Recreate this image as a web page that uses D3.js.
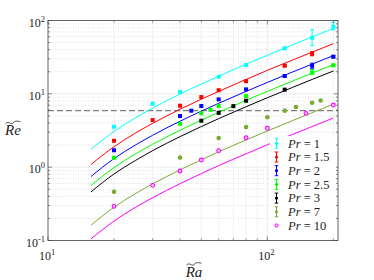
<!DOCTYPE html>
<html><head><meta charset="utf-8">
<script src="https://cdn.jsdelivr.net/npm/d3@7"></script>
<style>
html,body{margin:0;padding:0;background:#fff;}
svg{display:block;}
text{font-family:"Liberation Serif","DejaVu Serif",serif;fill:#222;}
</style></head><body>
<script>
// ---------------- data ----------------
const prLabels = ["1", "1.5", "2", "2.5", "3", "7", "10"];
const seriesColors = ["#00ffff", "#ff0000", "#0000ff", "#00ff00", "#000000", "#77ac30", "#ff00ff"];

const ra1 = [20, 30, 40, 60, 80, 120, 160, 200];
const re1 = [3.56, 7.33, 10.6, 17.1, 24.7, 41.7, 58.2, 82.2];
const lo1 = [3.56, 7.33, 10.6, 17.1, 24.7, 40.5, 45.3, 75.0];
const hi1 = [3.56, 7.33, 10.6, 17.1, 24.7, 43.0, 74.8, 94.0];

const ra15 = [20, 30, 40, 50, 60, 80, 120, 160];
const re15 = [2.29, 4.39, 6.88, 9.04, 11.2, 14.9, 24.2, 35.2];
const lo15 = [2.29, 4.39, 6.88, 9.04, 11.2, 14.9, 23.4, 33.0];
const hi15 = [2.29, 4.39, 6.88, 9.04, 11.2, 14.9, 25.0, 37.5];

const ra2 = [20, 40, 45, 50, 60, 80, 120, 160, 200];
const re2 = [1.70, 4.98, 5.89, 6.82, 8.4, 11.5, 17.5, 24.2, 32.1];
const lo2 = [1.70, 4.98, 5.89, 6.82, 8.4, 11.5, 17.0, 22.3, 31.0];
const hi2 = [1.70, 4.98, 5.89, 6.82, 8.4, 11.5, 18.0, 26.2, 33.2];

const ra25 = [20, 40, 50, 55, 60, 80, 160, 200];
const re25 = [1.34, 3.91, 5.42, 6.05, 6.82, 9.33, 19.6, 24.5];
const lo25 = [1.34, 3.91, 5.42, 6.05, 6.82, 9.0, 18.5, 23.6];
const hi25 = [1.34, 3.91, 5.42, 6.05, 6.82, 9.7, 21.5, 25.4];

const ra3 = [50, 60, 70, 80, 120];
const re3 = [4.3, 5.5, 6.8, 8.05, 11.4];

const ra7 = [20, 40, 60, 80, 100, 120, 135, 160, 175];
const re7 = [0.462, 1.35, 2.5, 3.52, 4.8, 5.9, 6.6, 7.57, 8.1];

const ra10 = [20, 30, 40, 50, 60, 80, 100, 150, 200];
const re10 = [0.292, 0.565, 0.886, 1.25, 1.68, 2.52, 3.39, 5.42, 7.03];

// fitted curves
const fitRa = [15.7, 20, 25, 30, 40, 50, 60, 80, 100, 130, 160, 200];
const fit1  = [1.75, 3.07, 4.69, 6.39, 9.93, 13.6, 17.4, 25.4, 33.6, 46.4, 59.7, 77.9];
const fit15 = [1.085, 1.90, 2.91, 3.96, 6.16, 8.45, 10.8, 15.7, 20.9, 28.8, 37.0, 48.3];
const fit2  = [0.745, 1.31, 2.00, 2.72, 4.23, 5.80, 7.43, 10.8, 14.3, 19.8, 25.4, 33.2];
const fit25 = [0.562, 0.986, 1.51, 2.05, 3.19, 4.38, 5.60, 8.15, 10.8, 14.9, 19.2, 25.0];
const fit3  = [0.46, 0.807, 1.23, 1.68, 2.61, 3.58, 4.59, 6.67, 8.84, 12.2, 15.7, 20.5];
const fit7  = [0.162, 0.284, 0.434, 0.591, 0.919, 1.26, 1.62, 2.35, 3.11, 4.30, 5.53, 7.21];
const fit10 = [0.105, 0.184, 0.282, 0.383, 0.596, 0.818, 1.05, 1.52, 2.02, 2.79, 3.58, 4.68];

const threshold = 5.9;

const xDomain = [10, 210];
const yDomain = [0.1, 100];
const xMajor = [10, 100];
const yMajor = [0.1, 1, 10, 100];
const xTickLabels = [["10", "1"], ["10", "2"]];
const yTickLabels = [["10", "-1"], ["10", "0"], ["10", "1"], ["10", "2"]];

// ---------------- drawing ----------------
const W = 374, H = 280;
const L = 48, R = 338, T = 20.5, B = 240.5;
const svg = d3.select("body").append("svg").attr("width", W).attr("height", H);
const x = d3.scaleLog().domain(xDomain).range([L, R]);
const y = d3.scaleLog().domain(yDomain).range([B, T]);

const minorX = [];
[10, 100].forEach(d => { for (let k = 2; k <= 9; k++) { const v = k * d; if (v <= xDomain[1]) minorX.push(v); } });
const minorY = [];
[0.1, 1, 10].forEach(d => { for (let k = 2; k <= 9; k++) minorY.push(k * d); });

const grid = svg.append("g");
grid.selectAll(".gx").data(minorX).enter().append("line")
  .attr("x1", d => x(d)).attr("x2", d => x(d)).attr("y1", T).attr("y2", B)
  .attr("stroke", "#cfcfcf").attr("stroke-width", 0.6).attr("stroke-dasharray", "1,1.5");
grid.selectAll(".gy").data(minorY).enter().append("line")
  .attr("y1", d => y(d)).attr("y2", d => y(d)).attr("x1", L).attr("x2", R)
  .attr("stroke", "#cfcfcf").attr("stroke-width", 0.6).attr("stroke-dasharray", "1,1.5");
grid.selectAll(".gmx").data(xMajor.slice(1)).enter().append("line")
  .attr("x1", d => x(d)).attr("x2", d => x(d)).attr("y1", T).attr("y2", B)
  .attr("stroke", "#e4e4e4").attr("stroke-width", 0.7);
grid.selectAll(".gmy").data(yMajor.slice(1, 3)).enter().append("line")
  .attr("y1", d => y(d)).attr("y2", d => y(d)).attr("x1", L).attr("x2", R)
  .attr("stroke", "#e4e4e4").attr("stroke-width", 0.7);

// threshold line
svg.append("line").attr("x1", L).attr("x2", R).attr("y1", y(threshold)).attr("y2", y(threshold))
  .attr("stroke", "#808080").attr("stroke-width", 1.4).attr("stroke-dasharray", "6,3");

// fits
const fits = [fit1, fit15, fit2, fit25, fit3, fit7, fit10];
const line = d3.line().x(d => x(d[0])).y(d => y(d[1])).curve(d3.curveMonotoneX);
fits.forEach((f, i) => {
  svg.append("path").attr("d", line(fitRa.map((r, j) => [r, f[j]])))
    .attr("fill", "none").attr("stroke", seriesColors[i]).attr("stroke-width", 1);
});

// points with error bars
const ebSeries = [
  [ra1, re1, lo1, hi1], [ra15, re15, lo15, hi15], [ra2, re2, lo2, hi2], [ra25, re25, lo25, hi25],
  [ra3, re3, re3, re3]
];
ebSeries.forEach((s, i) => {
  const g = svg.append("g");
  const c = seriesColors[i];
  s[0].forEach((r, j) => {
    const lo = s[2][j], hi = s[3][j];
    if (hi / lo > 1.02) {
      g.append("line").attr("x1", x(r)).attr("x2", x(r)).attr("y1", y(lo)).attr("y2", y(hi))
        .attr("stroke", c).attr("stroke-width", 1);
      [lo, hi].forEach(v => g.append("line").attr("x1", x(r) - 2).attr("x2", x(r) + 2)
        .attr("y1", y(v)).attr("y2", y(v)).attr("stroke", c).attr("stroke-width", 1));
    }
    g.append("rect").attr("x", x(r) - 2).attr("y", y(s[1][j]) - 2).attr("width", 4).attr("height", 4)
      .attr("fill", c);
  });
});
svg.append("g").selectAll("circle").data(ra7.map((r, j) => [r, re7[j]])).enter().append("circle")
  .attr("cx", d => x(d[0])).attr("cy", d => y(d[1])).attr("r", 2.3).attr("fill", seriesColors[5]);
svg.append("g").selectAll("circle").data(ra10.map((r, j) => [r, re10[j]])).enter().append("circle")
  .attr("cx", d => x(d[0])).attr("cy", d => y(d[1])).attr("r", 1.9).attr("fill", "#ffc8ff")
  .attr("stroke", seriesColors[6]).attr("stroke-width", 1.1);

// axes box and ticks
const axc = "#404040";
svg.append("rect").attr("x", L).attr("y", T).attr("width", R - L).attr("height", B - T)
  .attr("fill", "none").attr("stroke", axc).attr("stroke-width", 0.8);
const tk = svg.append("g").attr("stroke", axc).attr("stroke-width", 0.6);
xMajor.forEach(v => { tk.append("line").attr("x1", x(v)).attr("x2", x(v)).attr("y1", B).attr("y2", B - 4);
  tk.append("line").attr("x1", x(v)).attr("x2", x(v)).attr("y1", T).attr("y2", T + 4); });
minorX.forEach(v => { tk.append("line").attr("x1", x(v)).attr("x2", x(v)).attr("y1", B).attr("y2", B - 2);
  tk.append("line").attr("x1", x(v)).attr("x2", x(v)).attr("y1", T).attr("y2", T + 2); });
yMajor.forEach(v => { tk.append("line").attr("y1", y(v)).attr("y2", y(v)).attr("x1", L).attr("x2", L + 4);
  tk.append("line").attr("y1", y(v)).attr("y2", y(v)).attr("x1", R).attr("x2", R - 4); });
minorY.forEach(v => { tk.append("line").attr("y1", y(v)).attr("y2", y(v)).attr("x1", L).attr("x2", L + 2);
  tk.append("line").attr("y1", y(v)).attr("y2", y(v)).attr("x1", R).attr("x2", R - 2); });

// tick labels
xMajor.forEach((v, i) => {
  const t = svg.append("text").attr("x", x(v) - 1).attr("y", 260).attr("text-anchor", "middle")
    .attr("font-size", 12);
  t.append("tspan").text(xTickLabels[i][0]);
  t.append("tspan").attr("dy", -5).attr("font-size", 8.5).text(xTickLabels[i][1]);
});
yMajor.forEach((v, i) => {
  const t = svg.append("text").attr("x", 45).attr("y", y(v) + 6).attr("text-anchor", "end")
    .attr("font-size", 12);
  t.append("tspan").text(yTickLabels[i][0]);
  t.append("tspan").attr("dy", -5).attr("font-size", 8.5).text(yTickLabels[i][1]);
});

// axis labels with wide tildes
function tildeLabel(cx, base, str) {
  svg.append("text").attr("x", cx).attr("y", base).attr("text-anchor", "middle")
    .attr("font-size", 15).attr("font-style", "italic").text(str);
  const w = 15, y0 = base - 12.5;
  svg.append("path")
    .attr("d", `M${cx - w / 2},${y0 + 1} C${cx - w / 4},${y0 - 2.2} ${cx - w / 6},${y0 + 3} ${cx},${y0 + 0.5} S${cx + w / 4},${y0 - 1.5} ${cx + w / 2},${y0 - 0.8}`)
    .attr("fill", "none").attr("stroke", "#222").attr("stroke-width", 0.8);
}
tildeLabel(13, 135, "Re");
tildeLabel(194, 276.5, "Ra");

// legend
const lg = svg.append("g");
lg.append("rect").attr("x", 270).attr("y", 136).attr("width", 66).attr("height", 97).attr("fill", "#fff");
const legendY = d3.range(prLabels.length).map(i => 143.3 + i * 13.7);
prLabels.forEach((p, i) => {
  const cy = legendY[i], cx = 276.5, c = seriesColors[i];
  if (i < 6) {
    lg.append("line").attr("x1", cx).attr("x2", cx).attr("y1", cy - 5).attr("y2", cy + 5).attr("stroke", c).attr("stroke-width", 1);
    [cy - 5, cy + 5].forEach(v => lg.append("line").attr("x1", cx - 1.8).attr("x2", cx + 1.8).attr("y1", v).attr("y2", v).attr("stroke", c).attr("stroke-width", 1));
    lg.append("circle").attr("cx", cx).attr("cy", cy).attr("r", 1.6).attr("fill", c);
  } else {
    lg.append("circle").attr("cx", cx).attr("cy", cy).attr("r", 1.6).attr("fill", "#ffc8ff").attr("stroke", c).attr("stroke-width", 1);
  }
  const t = lg.append("text").attr("x", 288).attr("y", cy + 4.3).attr("font-size", 12.5);
  t.append("tspan").attr("font-style", "italic").text("Pr");
  t.append("tspan").text(" = " + p);
});
</script>
</body></html>
